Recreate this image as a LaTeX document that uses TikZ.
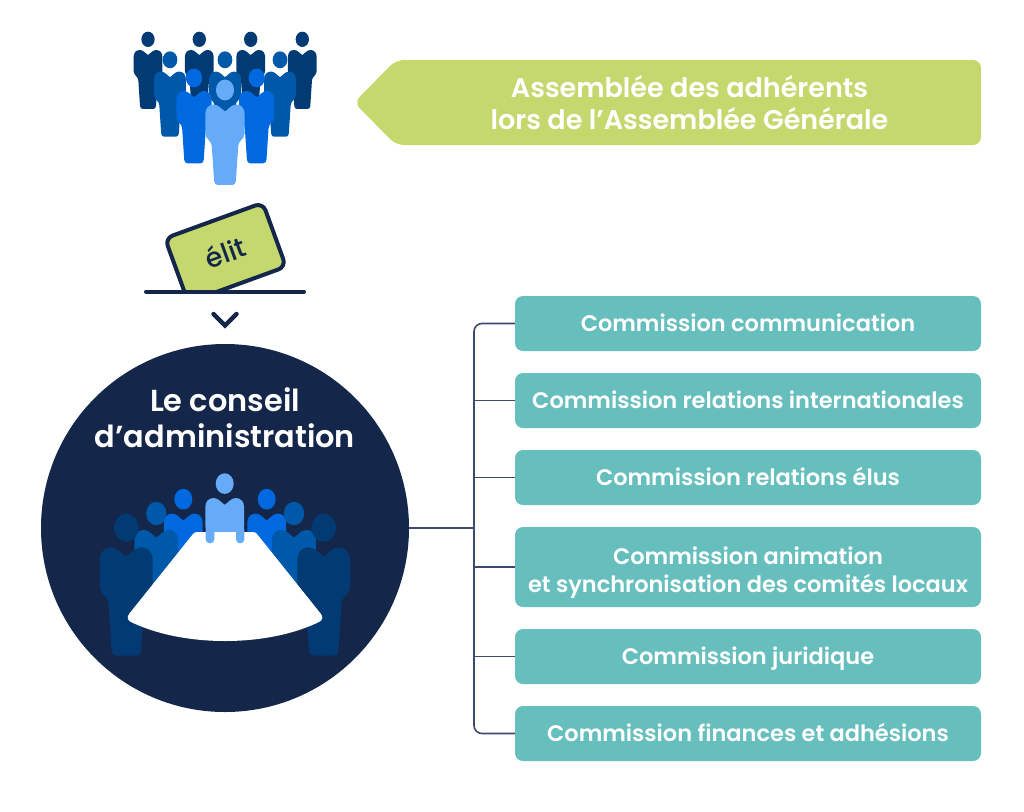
\documentclass[tikz,border=0pt]{standalone}
\usepackage{fontspec}
\setmainfont{Poppins}
\newfontfamily\medfont{Poppins Medium}
\newfontfamily\semifont{Poppins SemiBold}
\usetikzlibrary{calc}
\definecolor{ink}{HTML}{14274A}
\definecolor{wire}{HTML}{3C4A6B}
\definecolor{leaf}{HTML}{C5D86D}
\definecolor{teal}{HTML}{66BFBD}
\definecolor{darkblue}{HTML}{023A74}
\definecolor{midblue}{HTML}{0058A8}
\definecolor{brightblue}{HTML}{0069E0}
\definecolor{lightblue}{HTML}{66ABF8}
\newcommand{\boxstrut}{\rule[-5pt]{0pt}{26.4pt}}
\tikzset{
  commission/.style={rectangle, fill=teal, rounded corners=8pt, minimum width=466pt, inner sep=0pt, align=center, text=white, font=\semifont\fontsize{22.5}{28}\selectfont, execute at begin node=\boxstrut, execute at end node=\boxstrut},
  banner/.style={fill=leaf, rounded corners=8pt},
  bannertext/.style={text=white, align=center, font=\semifont\fontsize{27}{32}\selectfont},
  link/.style={draw=wire, line width=1.6pt},
  stroke/.style={draw=ink, line width=4pt, line cap=round},
  person/.pic={
    \path[pic actions] (0,22) ellipse (20 and 23);
    \path[pic actions] (0,69) .. controls (-6,66) and (-14,54) .. (-24,54)
      .. controls (-36,54) and (-43,62) .. (-43,74) -- (-43,118)
      .. controls (-43,130) and (-29,134) .. (-29,146) -- (-24,222)
      .. controls (-24,228) and (-20,231) .. (-16,231) -- (16,231)
      .. controls (20,231) and (24,228) .. (24,222) -- (29,146)
      .. controls (29,134) and (43,130) .. (43,118) -- (43,74)
      .. controls (43,62) and (36,54) .. (24,54)
      .. controls (14,54) and (6,66) .. (0,69) -- cycle;
  },
}

\begin{document}
\begin{tikzpicture}[x=1pt,y=-1pt]
  \useasboundingbox (0,0) rectangle (1024,811);

  % crowd
  \foreach \x in {148,199.3,250.7,302.3}
    \pic[fill=darkblue,scale=0.333] at (\x,32) {person};
  \foreach \x in {170,225,280}
    \pic[fill=midblue,scale=0.368] at (\x,51.7) {person};
  \foreach \x in {194,256.7}
    \pic[fill=brightblue,scale=0.408] at (\x,69) {person};
  \pic[fill=lightblue,scale=0.4545] at (225,80) {person};

  % banner
  \fill[banner] (354,102.5) -- (396,60) -- (981,60) -- (981,145) -- (396,145) -- cycle;
  \node[bannertext] (assemblee) at (689.5,102.5) {Assemblée des adhérents\\lors de l’Assemblée Générale};

  % ballot
  \begin{scope}
    \clip (0,0) rectangle (1024,291);
    \node[draw=ink, fill=leaf, line width=4pt, rounded corners=8pt, minimum width=104pt, minimum height=68pt, rotate=20, text=ink, font=\medfont\fontsize{27}{32}\selectfont] (ballot) at (225.5,252.5) {élit};
  \end{scope}
  \draw[stroke] (146,291.5) -- (304,291.5);
  \draw[stroke, line width=4.5pt] (213.5,314) -- (225,325.5) -- (236.5,314);

  % conseil
  \node[circle, fill=ink, minimum size=368pt, inner sep=0pt] (conseil) at (225,528) {};
  \node[text=white, align=center, font=\semifont\fontsize{30.4}{36}\selectfont] (titre) at (225,418) {Le conseil\\d’administration};
  \pic[fill=lightblue,scale=0.45] at (224.7,473.7) {person};
  \foreach \x in {183.3,266.7}
    \pic[fill=brightblue,scale=0.45] at (\x,489.3) {person};
  \foreach \x in {156.3,294}
    \pic[fill=midblue,scale=0.51] at (\x,502.3) {person};
  \foreach \x in {126.3,323.7}
    \pic[fill=darkblue,scale=0.612] at (\x,514.3) {person};
  \fill[white] (197,532) -- (253,532) .. controls (255,532) and (256,533) .. (257,534)
    -- (321,614) .. controls (323.5,617) and (322,621) .. (319,622)
    .. controls (290,636) and (255,641) .. (225,641)
    .. controls (195,641) and (160,636) .. (131,622)
    .. controls (128,621) and (126.5,617) .. (129,614)
    -- (193,534) .. controls (194,533) and (195,532) .. (197,532) -- cycle;
  \fill[lightblue, rounded corners=4pt] (205.7,525) rectangle (214.3,543.3);
  \fill[lightblue, rounded corners=4pt] (236,525) rectangle (244.3,543.3);

  % commissions
  \node[commission, minimum height=55pt] (com1) at (748,323.5) {Commission communication};
  \node[commission, minimum height=55pt] (com2) at (748,400.5) {Commission relations internationales};
  \node[commission, minimum height=55pt] (com3) at (748,477.5) {Commission relations élus};
  \node[commission, minimum height=80pt] (com4) at (748,567) {\rule{0pt}{28.5pt}Commission animation\\et synchronisation des comités locaux};
  \node[commission, minimum height=55pt] (com5) at (748,656.5) {Commission juridique};
  \node[commission, minimum height=55pt] (com6) at (748,733.5) {Commission finances et adhésions};

  \coordinate (tronc) at (474,528);
  \draw[link] (conseil.east) -- (tronc);
  \draw[link, rounded corners=8pt] (com1.west) -- (com1.west -| tronc) -- (com6.west -| tronc) -- (com6.west);
  \foreach \n in {com2,com3,com4,com5}
    \draw[link] (\n.west) -- (\n.west -| tronc);
\end{tikzpicture}
\end{document}
